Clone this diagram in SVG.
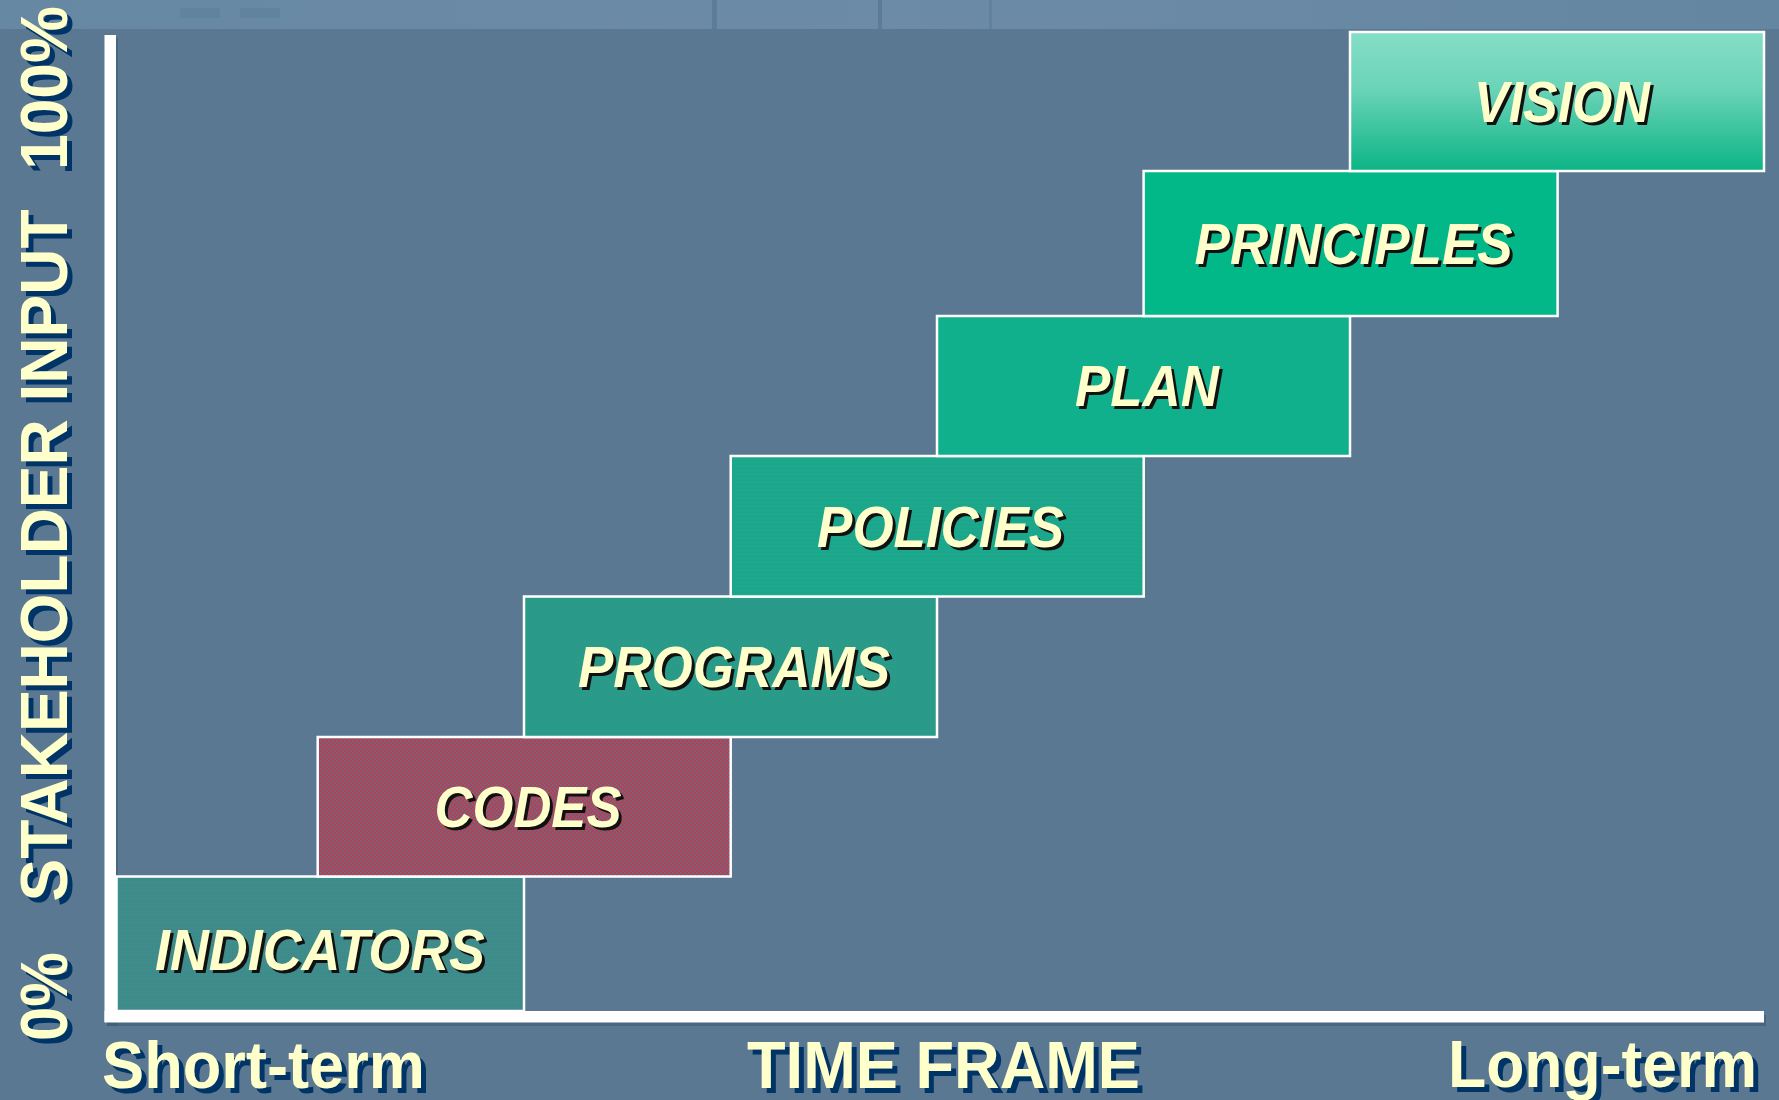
<svg xmlns="http://www.w3.org/2000/svg" width="1779" height="1100" viewBox="0 0 1779 1100">
<defs>
<style>
.box{stroke:#ffffff;stroke-width:2.5}
.lbl{font-family:"Liberation Sans",Arial,sans-serif;font-weight:bold;font-style:italic;font-size:57px;text-anchor:middle;fill:#ffffcc}
.lsh{font-family:"Liberation Sans",Arial,sans-serif;font-weight:bold;font-style:italic;font-size:57px;text-anchor:middle;fill:#111111}
.ax{font-family:"Liberation Sans",Arial,sans-serif;font-weight:bold;font-size:66px;fill:#ffffcc}
.axs{font-family:"Liberation Sans",Arial,sans-serif;font-weight:bold;font-size:66px;fill:#003366}
</style>
<pattern id="pCodes" width="4" height="4" patternUnits="userSpaceOnUse">
<rect width="4" height="4" fill="#ab4458"/>
<rect x="0" y="0" width="1.5" height="1.5" fill="#6a7088"/>
<rect x="2" y="2" width="1.5" height="1.5" fill="#6a7088"/>
</pattern>
<pattern id="pInd" width="4" height="4" patternUnits="userSpaceOnUse">
<rect width="4" height="4" fill="#3e8c8a"/>
<rect x="0" y="0" width="1.5" height="1.5" fill="#4a8290"/>
<rect x="2" y="2" width="1.5" height="1.5" fill="#36948a"/>
</pattern>
<pattern id="pProg" width="4" height="4" patternUnits="userSpaceOnUse">
<rect width="4" height="4" fill="#289c88"/>
<rect x="0" y="0" width="1.5" height="1.5" fill="#34928c"/>
</pattern>
<pattern id="pPol" width="4" height="4" patternUnits="userSpaceOnUse">
<rect width="4" height="4" fill="#18aa8a"/>
<rect x="0" y="0" width="4" height="1" fill="#26a08e"/>
</pattern>
<linearGradient id="gVision" x1="0" y1="0" x2="0" y2="1">
<stop offset="0" stop-color="#84dec6"/>
<stop offset="0.4" stop-color="#6cd4b8"/>
<stop offset="1" stop-color="#0cb486"/>
</linearGradient>
<linearGradient id="gStrip" x1="0" y1="0" x2="1" y2="0">
<stop offset="0" stop-color="#6788a3"/>
<stop offset="0.5" stop-color="#6b8ba6"/>
<stop offset="1" stop-color="#6586a0"/>
</linearGradient>
</defs>
<rect x="0" y="0" width="1779" height="1100" fill="#5a7891"/>
<g id="topstrip">
<rect x="0" y="0" width="1779" height="29" fill="url(#gStrip)"/>
<rect x="712" y="0" width="5" height="29" fill="#5c7d97"/>
<rect x="878" y="0" width="4" height="29" fill="#5c7d97"/>
<rect x="989" y="0" width="3" height="29" fill="#61829c"/>
<rect x="180" y="8" width="40" height="10" fill="#5e7f99" opacity="0.6"/>
<rect x="240" y="8" width="40" height="10" fill="#5e7f99" opacity="0.6"/>
</g>
<g id="axes">
<rect x="107" y="38" width="11" height="988" fill="#3a5670" opacity="0.5"/>
<rect x="107" y="1015" width="1659" height="11" fill="#3a5670" opacity="0.5"/>
<rect x="104.5" y="35" width="11.5" height="987" fill="#ffffff"/>
<rect x="104.5" y="1011" width="1659.5" height="11.5" fill="#ffffff"/>
</g>
<g id="node-indicators">
<rect class="box" x="116.5" y="876.5" width="407.5" height="134.5" fill="url(#pInd)"/>
<text class="lsh" x="323" y="972.5" textLength="330" lengthAdjust="spacingAndGlyphs">INDICATORS</text>
<text class="lbl" x="320" y="969.5" textLength="330" lengthAdjust="spacingAndGlyphs">INDICATORS</text>
</g>
<g id="node-codes">
<rect class="box" x="317.7" y="737" width="413" height="139.5" fill="url(#pCodes)"/>
<text class="lsh" x="531" y="830" textLength="187" lengthAdjust="spacingAndGlyphs">CODES</text>
<text class="lbl" x="528" y="827" textLength="187" lengthAdjust="spacingAndGlyphs">CODES</text>
</g>
<g id="node-programs">
<rect class="box" x="524" y="596.5" width="413" height="140.5" fill="url(#pProg)"/>
<text class="lsh" x="737" y="690" textLength="312" lengthAdjust="spacingAndGlyphs">PROGRAMS</text>
<text class="lbl" x="734" y="687" textLength="312" lengthAdjust="spacingAndGlyphs">PROGRAMS</text>
</g>
<g id="node-policies">
<rect class="box" x="730.7" y="456" width="413" height="140.5" fill="url(#pPol)"/>
<text class="lsh" x="943.6" y="549.5" textLength="247" lengthAdjust="spacingAndGlyphs">POLICIES</text>
<text class="lbl" x="940.6" y="546.5" textLength="247" lengthAdjust="spacingAndGlyphs">POLICIES</text>
</g>
<g id="node-plan">
<rect class="box" x="937" y="316" width="413" height="140" fill="#10b08c"/>
<text class="lsh" x="1150" y="409" textLength="144" lengthAdjust="spacingAndGlyphs">PLAN</text>
<text class="lbl" x="1147" y="406" textLength="144" lengthAdjust="spacingAndGlyphs">PLAN</text>
</g>
<g id="node-principles">
<rect class="box" x="1143.6" y="171" width="414" height="145" fill="#02b888"/>
<text class="lsh" x="1356.6" y="267" textLength="318" lengthAdjust="spacingAndGlyphs">PRINCIPLES</text>
<text class="lbl" x="1353.6" y="264" textLength="318" lengthAdjust="spacingAndGlyphs">PRINCIPLES</text>
</g>
<g id="node-vision">
<rect class="box" x="1350" y="32" width="414" height="139" fill="url(#gVision)"/>
<text class="lsh" x="1565" y="125" textLength="176" lengthAdjust="spacingAndGlyphs">VISION</text>
<text class="lbl" x="1562" y="122" textLength="176" lengthAdjust="spacingAndGlyphs">VISION</text>
</g>
<g id="connectors"></g>
<g id="axis-labels">
<text class="axs" x="107" y="1093" textLength="323" lengthAdjust="spacingAndGlyphs">Short-term</text>
<text class="ax" x="102" y="1088" textLength="323" lengthAdjust="spacingAndGlyphs">Short-term</text>
<text class="axs" x="752" y="1093" textLength="393" lengthAdjust="spacingAndGlyphs">TIME FRAME</text>
<text class="ax" x="747" y="1088" textLength="393" lengthAdjust="spacingAndGlyphs">TIME FRAME</text>
<text class="axs" x="1453" y="1092" textLength="309" lengthAdjust="spacingAndGlyphs">Long-term</text>
<text class="ax" x="1448" y="1087" textLength="309" lengthAdjust="spacingAndGlyphs">Long-term</text>
<g transform="translate(72,1046) rotate(-90)">
<text class="axs" x="0" y="0" textLength="89" lengthAdjust="spacingAndGlyphs">0%</text>
</g>
<g transform="translate(67,1041) rotate(-90)">
<text class="ax" x="0" y="0" textLength="89" lengthAdjust="spacingAndGlyphs">0%</text>
</g>
<g transform="translate(72,906.5) rotate(-90)">
<text class="axs" x="0" y="0" textLength="692" lengthAdjust="spacingAndGlyphs">STAKEHOLDER INPUT</text>
</g>
<g transform="translate(67,901.5) rotate(-90)">
<text class="ax" x="0" y="0" textLength="692" lengthAdjust="spacingAndGlyphs">STAKEHOLDER INPUT</text>
</g>
<g transform="translate(72,175) rotate(-90)">
<text class="axs" x="0" y="0" textLength="164" lengthAdjust="spacingAndGlyphs">100%</text>
</g>
<g transform="translate(67,170) rotate(-90)">
<text class="ax" x="0" y="0" textLength="164" lengthAdjust="spacingAndGlyphs">100%</text>
</g>
</g>
</svg>
